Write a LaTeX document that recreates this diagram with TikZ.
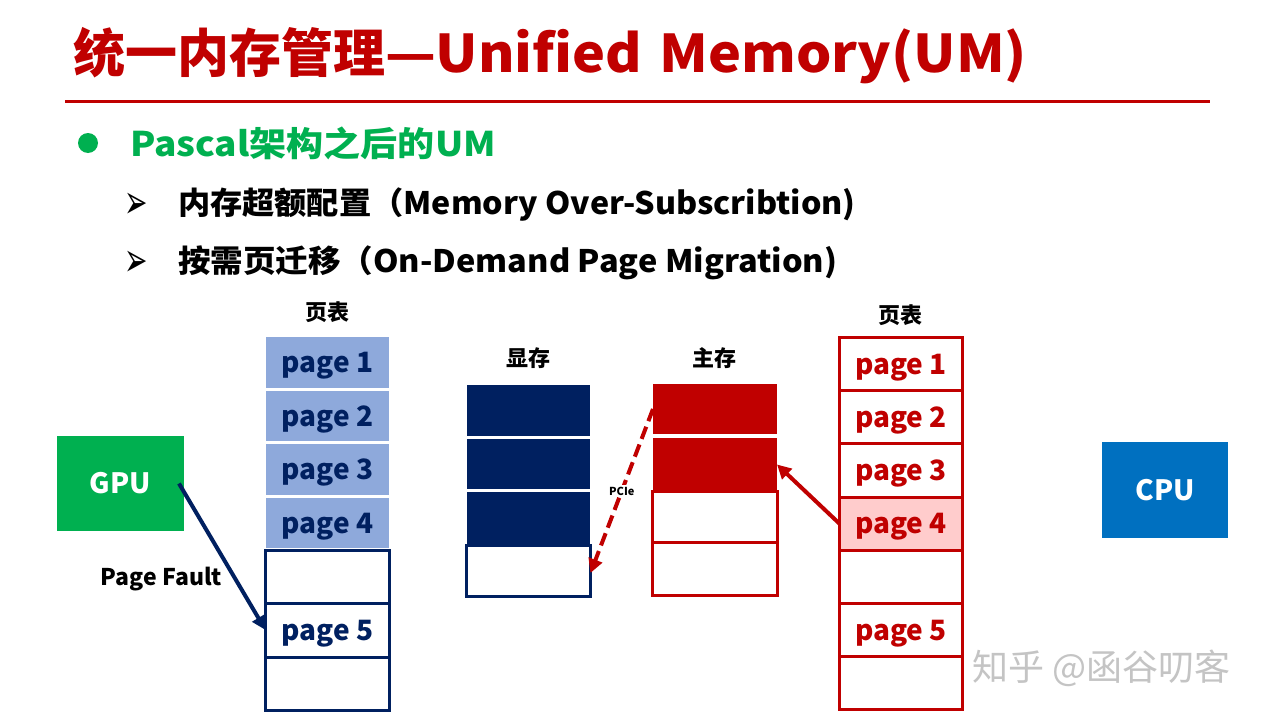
\documentclass[tikz,border=0pt]{standalone}
\usepackage{fontspec}
\setmainfont{Noto Sans CJK SC}
\newfontfamily\symfont{DejaVu Sans}
\usetikzlibrary{arrows.meta}
\definecolor{dred}{HTML}{C00000}
\definecolor{mgreen}{HTML}{00B050}
\definecolor{navy}{HTML}{002060}
\definecolor{lblue}{HTML}{8EA9DB}
\definecolor{lpink}{HTML}{FFCCCC}
\definecolor{cpublue}{HTML}{0070C0}
\definecolor{wmgray}{HTML}{C4C4C4}
\tikzset{
  txt/.style={inner sep=0pt, outer sep=0pt, font=\bfseries\fontsize{#1}{#1}\selectfont},
  cellfill/.style={fill=#1, draw=none, inner sep=0pt, outer sep=0pt, minimum width=123pt},
  cellbox/.style={draw=#1, line width=3pt, fill=white, inner sep=0pt, outer sep=0pt},
  pagetxt/.style={text=#1, text height=24pt, text depth=4pt, font=\bfseries\fontsize{28}{28}\selectfont},
  procbox/.style={fill=#1, text=white, inner sep=0pt, outer sep=0pt, font=\bfseries\fontsize{28}{28}\selectfont},
  heading/.style={inner sep=0pt, font=\bfseries\fontsize{22}{22}\selectfont},
  thickarrow/.style={line width=4pt, -{Triangle[length=14pt,width=14pt]}},
  arrowbullet/.style={inner sep=0pt, font=\symfont\fontsize{28}{28}\selectfont},
}
\begin{document}
\begin{tikzpicture}[x=1pt,y=-1pt]
\useasboundingbox (0,0) rectangle (1280,720);
\fill[white] (0,0) rectangle (1280,720);

% title
\node[txt=52, text=dred, anchor=west] (title) at (73,56) {统一内存管理\scalebox{1.07}[1]{—Unified\hspace{4pt} Memory(UM)}};
\draw[dred, line width=3pt] (65,101) -- (1210,101);

% bullets
\fill[mgreen] (88,143) circle (10pt);
\node[txt=34, text=mgreen, anchor=west] (b1) at (130,143) {\scalebox{1.09}[1]{Pascal架构之后的UM}};
\node[arrowbullet] (a1) at (136,206) {\scalebox{1}[1.7]{➢}};
\node[txt=31, anchor=west] (b2) at (178,205) {\scalebox{1.04}[1]{内存超额配置（Memory Over-Subscribtion)}};
\node[arrowbullet] (a2) at (136,264) {\scalebox{1}[1.7]{➢}};
\node[txt=31, anchor=west] (b3) at (178,263) {\scalebox{1.05}[1]{按需页迁移（On-Demand Page Migration)}};

% GPU
\node[procbox=mgreen, minimum width=127pt, minimum height=95pt] (gpu) at (120.5,483.5) {GPU};

% left page table
\node[heading] (lhead) at (327,312) {页表};
\node[cellfill=lblue, minimum height=51pt, pagetxt=navy] (lp1) at (327.5,362.5) {page 1};
\node[cellfill=lblue, minimum height=50pt, pagetxt=navy] (lp2) at (327.5,416) {page 2};
\node[cellfill=lblue, minimum height=51pt, pagetxt=navy] (lp3) at (327.5,469.5) {page 3};
\node[cellfill=lblue, minimum height=50pt, pagetxt=navy] (lp4) at (327.5,523) {page 4};
\node[cellbox=navy, minimum width=124pt, minimum height=53pt] (le1) at (327.5,577) {};
\node[cellbox=navy, minimum width=124pt, minimum height=54pt, pagetxt=navy] (lp5) at (327.5,630) {page 5};
\node[cellbox=navy, minimum width=124pt, minimum height=53pt] (le2) at (327.5,683.5) {};

% GPU memory
\node[heading] (vhead) at (528,358) {显存};
\node[cellfill=navy, minimum height=51pt] (v1) at (528.5,410.5) {};
\node[cellfill=navy, minimum height=50pt] (v2) at (528.5,464) {};
\node[cellfill=navy, minimum height=53pt] (v3) at (528.5,518.5) {};
\node[cellbox=navy, minimum width=124pt, minimum height=51pt] (v4) at (528.5,571) {};

% host memory
\node[heading] (hhead) at (714,358) {主存};
\node[cellfill=dred, minimum width=124pt, minimum height=50pt] (h1) at (715,409) {};
\node[cellfill=dred, minimum width=124pt, minimum height=53pt] (h2) at (715,464.5) {};
\node[cellbox=dred, minimum width=125pt, minimum height=50.5pt] (h3) at (715,516.75) {};
\node[cellbox=dred, minimum width=125pt, minimum height=53.5pt] (h4) at (715,568.75) {};

% right page table
\node[heading] (rhead) at (900,315) {页表};
\node[cellbox=dred, minimum width=123pt, minimum height=53.2pt, pagetxt=dred] (rp1) at (901,364.1) {page 1};
\node[cellbox=dred, minimum width=123pt, minimum height=53.2pt, pagetxt=dred] (rp2) at (901,417.3) {page 2};
\node[cellbox=dred, minimum width=123pt, minimum height=53.2pt, pagetxt=dred] (rp3) at (901,470.5) {page 3};
\node[cellbox=dred, fill=lpink, minimum width=123pt, minimum height=53.2pt, pagetxt=dred] (rp4) at (901,523.7) {page 4};
\node[cellbox=dred, minimum width=123pt, minimum height=53.2pt] (re1) at (901,576.9) {};
\node[cellbox=dred, minimum width=123pt, minimum height=53.2pt, pagetxt=dred] (rp5) at (901,630.1) {page 5};
\node[cellbox=dred, minimum width=123pt, minimum height=53.2pt] (re2) at (901,683.3) {};

% CPU
\node[procbox=cpublue, minimum width=126pt, minimum height=96pt] (cpu) at (1165,490) {CPU};

% connectors
\draw[navy, thickarrow] ([xshift=-5pt]gpu.east) -- (lp5.west);
\node[txt=23, anchor=east] (pf) at (222,579) {Page Fault};
\draw[dred, line width=4pt, dash pattern=on 13pt off 6pt, -{Triangle[length=14pt,width=14pt]}]
  (h1.west) -- ([yshift=-2pt]v4.east)
  node[pos=0.5, fill=white, text=black, inner sep=2pt, font=\bfseries\fontsize{11}{11}\selectfont] (pcie) {PCIe};
\draw[dred, thickarrow] (rp4.west) -- (h2.east);

% watermark
\node[inner sep=0pt, text=wmgray, font=\fontsize{36}{36}\selectfont, anchor=west] (wm) at (972,668) {知乎 @函谷叨客};
\end{tikzpicture}
\end{document}
